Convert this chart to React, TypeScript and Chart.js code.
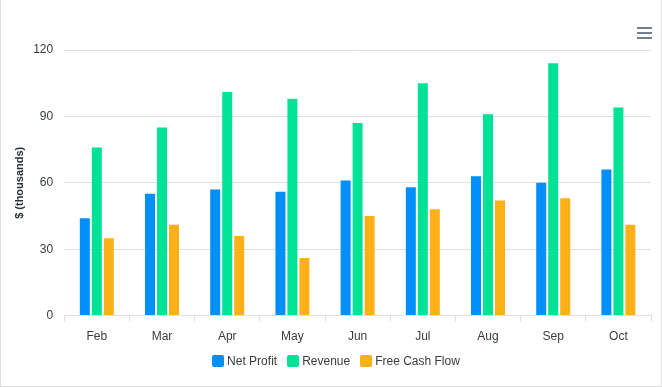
import React, { useEffect, useRef } from "react";
import { Chart, registerables } from "chart.js";

Chart.register(...registerables);

const categories = ["Feb", "Mar", "Apr", "May", "Jun", "Jul", "Aug", "Sep", "Oct"];
const netProfit = [44, 55, 57, 56, 61, 58, 63, 60, 66];
const revenue = [76, 85, 101, 98, 87, 105, 91, 114, 94];
const freeCashFlow = [35, 41, 36, 26, 45, 48, 52, 53, 41];
const seriesNames = ["Net Profit", "Revenue", "Free Cash Flow"];
const seriesColors = ["#008FFB", "#00E396", "#FEB019"];
const yTicks = [0, 30, 60, 90, 120];
const yTitle = "$ (thousands)";

const FONT = "'Liberation Sans', Arial, Helvetica, sans-serif";

export default function App() {
  const ref = useRef<HTMLCanvasElement | null>(null);

  useEffect(() => {
    document.body.style.margin = "0";
    const canvas = ref.current;
    if (!canvas) return;
    const values = [netProfit, revenue, freeCashFlow];
    const chart = new Chart(canvas, {
      type: "bar",
      data: {
        labels: categories,
        datasets: values.map((v, i) => ({
          label: seriesNames[i],
          data: v,
          backgroundColor: seriesColors[i],
          borderWidth: 0,
          categoryPercentage: 0.552,
          barPercentage: 0.833,
        })),
      },
      options: {
        responsive: false,
        animation: false,
        devicePixelRatio: 1,
        layout: { padding: { left: 12, right: 10, top: 50, bottom: 34 } },
        plugins: {
          tooltip: { enabled: false },
          legend: { display: false },
        },
        scales: {
          x: {
            grid: {
              drawOnChartArea: false,
              drawTicks: true,
              tickLength: 6,
              color: "#e0e0e0",
            },
            border: { display: true, color: "#e0e0e0" },
            ticks: {
              color: "#373d3f",
              padding: 8,
              font: { family: FONT, size: 12 },
            },
          },
          y: {
            min: 0,
            max: 120,
            afterBuildTicks: (axis: any) => {
              axis.ticks = yTicks.map((v) => ({ value: v }));
            },
            grid: { drawTicks: false, color: "#e0e0e0" },
            border: { display: false },
            ticks: {
              color: "#373d3f",
              padding: 11,
              font: { family: FONT, size: 12 },
            },
            title: {
              display: true,
              text: yTitle,
              color: "#263238",
              padding: { top: 0, bottom: -4 },
              font: { family: FONT, size: 11, weight: "bold" },
            },
          },
        },
      },
    });
    return () => chart.destroy();
  }, []);

  return (
    <div
      style={{
        position: "absolute",
        left: 0,
        top: 0,
        width: 662,
        height: 387,
        boxSizing: "border-box",
        border: "1px solid #dddddd",
        borderTop: "none",
        background: "#fff",
      }}
    >
      <canvas ref={ref} width={660} height={386} style={{ display: "block" }} />
      <div style={{ position: "absolute", left: 636, top: 27, width: 15 }}>
        {[0, 1, 2].map((i) => (
          <div
            key={i}
            style={{ height: 2, background: "#6E8192", marginBottom: i < 2 ? 3 : 0 }}
          />
        ))}
      </div>
      <div
        style={{
          position: "absolute",
          left: 0,
          top: 353,
          width: 670,
          display: "flex",
          justifyContent: "center",
          fontFamily: FONT,
          fontSize: 12,
          color: "#373d3f",
          lineHeight: "16px",
        }}
      >
        {seriesNames.map((n, i) => (
          <div key={n} style={{ display: "flex", alignItems: "center", margin: "0 5px" }}>
            <span
              style={{
                display: "inline-block",
                width: 12,
                height: 12,
                borderRadius: 2,
                background: seriesColors[i],
                marginRight: 3,
              }}
            />
            <span>{n}</span>
          </div>
        ))}
      </div>
    </div>
  );
}
